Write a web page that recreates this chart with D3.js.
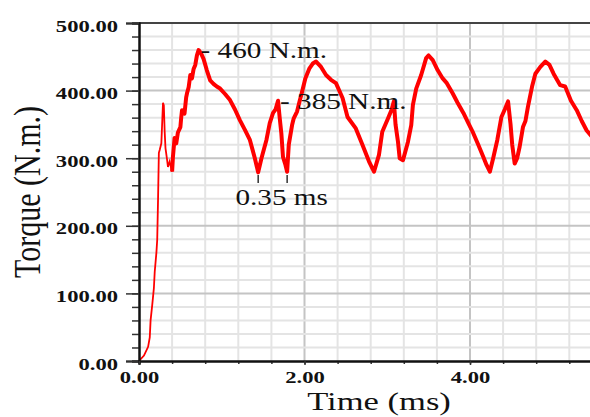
<!DOCTYPE html>
<html>
<head>
<meta charset="utf-8">
<script src="https://cdn.jsdelivr.net/npm/d3@7"></script>
<style>
  html, body { margin: 0; padding: 0; background: #fff; }
  svg { display: block; }
  text { font-family: "Liberation Serif", "Times New Roman", serif; }
</style>
</head>
<body>
<svg id="chart" width="590" height="417"></svg>
<script>
// Shaft torque over time (ms vs N.m.)
const timeMs = [
  0, 0.06, 0.11, 0.13, 0.14, 0.16, 0.18, 0.19, 0.21, 0.22, 0.23, 0.24, 0.25, 0.27, 0.29, 0.30,
  0.31, 0.32, 0.34, 0.35, 0.37, 0.38, 0.40,
  0.41, 0.43, 0.45, 0.47, 0.50, 0.51, 0.52, 0.55, 0.57, 0.58, 0.60, 0.62, 0.64, 0.66, 0.68, 0.70, 0.72,
  0.75, 0.78, 0.82, 0.86, 0.90, 0.94, 0.98, 1.04, 1.10, 1.16, 1.22, 1.28, 1.34, 1.40, 1.44,
  1.48, 1.54, 1.58, 1.62, 1.65, 1.68, 1.70, 1.72, 1.74, 1.77, 1.79,
  1.81, 1.85, 1.87, 1.91, 1.94, 1.97, 2.01, 2.06, 2.10, 2.14,
  2.20, 2.26, 2.32, 2.38, 2.46, 2.52, 2.62, 2.70, 2.78, 2.84,
  2.90, 2.94, 3.01, 3.05, 3.08, 3.10, 3.13, 3.15, 3.19,
  3.25, 3.29, 3.31, 3.35, 3.41, 3.47, 3.50,
  3.55, 3.61, 3.67, 3.72, 3.79, 3.85, 3.92, 3.98, 4.04, 4.10, 4.16, 4.20, 4.24,
  4.28, 4.33, 4.38, 4.42, 4.46, 4.49, 4.51, 4.54, 4.57,
  4.60, 4.64, 4.67, 4.70, 4.75, 4.79, 4.85, 4.91,
  4.96, 5.01, 5.09, 5.15, 5.22, 5.29, 5.35, 5.41, 5.50
];
const torqueNm = [
  0, 8, 21, 35, 60, 83, 108, 132, 160, 179, 238, 308, 312, 322, 382, 378,
  340, 315, 297, 287, 295, 290, 280,
  302, 330, 322, 338, 346, 360, 371, 366, 390, 396, 405, 423, 418, 432, 438, 452, 460,
  455, 447, 430, 415, 410, 406, 403, 395, 386, 372, 356, 342, 327, 300, 279,
  300, 327, 352, 367, 372, 385, 360, 337, 302, 290, 280,
  320, 349, 359, 369, 384, 398, 418, 433, 440, 443,
  435, 423, 416, 411, 389, 361, 344, 320, 295, 280,
  305, 339, 359, 371, 384, 350, 324, 300, 297,
  324, 349, 379, 403, 423, 448, 452,
  445, 430, 418, 411, 396, 382, 367, 352, 337, 320, 302, 290, 280,
  300, 327, 361, 372, 384, 350, 320, 292, 300,
  317, 346, 355, 376, 406, 425, 435, 443,
  438, 425, 408, 406, 385, 371, 355, 341, 328
];
// index where the start-up transient ends and the steady cycling begins
const transientEnd = 22;

const xTicksMajor = [0, 2, 4];
const yTicksMajor = [0, 100, 200, 300, 400, 500];
const xTitle = "Time (ms)";
const yTitle = "Torque (N.m.)";

// annotations: peak torque, second peak, and the gap between two minima
const peakLabel = { t: 0.72, v: 460, text: "- 460 N.m." };
const secondPeakLabel = { t: 1.68, v: 385, text: "- 385 N.m." };
const gapLabel = { t0: 1.44, t1: 1.79, text: "0.35 ms" };

const svg = d3.select("#chart");
const plotLeft = 139, plotTop = 23, plotBottom = 361;
const x = d3.scaleLinear().domain([0, 6]).range([plotLeft, plotLeft + 6 * 82.75]);
const y = d3.scaleLinear().domain([0, 500]).range([plotBottom, plotTop]);
const stretch = 1.33;

const xMinor = d3.range(0, 16).map(i => +(i * 0.4).toFixed(1));
const yMinor = d3.range(0, 26).map(i => i * 20);

// grid
const grid = svg.append("g");
grid.selectAll("line.vx").data(xMinor.filter(d => d > 0)).join("line")
  .attr("x1", d => x(d)).attr("x2", d => x(d)).attr("y1", plotTop).attr("y2", plotBottom)
  .attr("stroke", d => (Math.abs(d % 2) < 1e-6 ? "#c4c4c4" : "#e4e4e4")).attr("stroke-width", 2);
grid.selectAll("line.hy").data(yMinor.filter(d => d > 0 && d < 500)).join("line")
  .attr("x1", plotLeft).attr("x2", 590).attr("y1", d => y(d)).attr("y2", d => y(d))
  .attr("stroke", d => (d % 100 === 0 ? "#c4c4c4" : "#e4e4e4")).attr("stroke-width", 2);

// top frame line
svg.append("line").attr("x1", plotLeft).attr("x2", 590).attr("y1", plotTop).attr("y2", plotTop)
  .attr("stroke", "#444").attr("stroke-width", 2);

// data line: thin start-up transient, thicker noisy steady cycling
const line = d3.line().x(d => x(d[0])).y(d => y(d[1]));
const pts = timeMs.map((t, i) => [t, torqueNm[i]]);
svg.append("path").datum(pts.slice(0, transientEnd + 1))
  .attr("d", line).attr("fill", "none").attr("stroke", "#ff0000")
  .attr("stroke-width", 1.8).attr("stroke-linejoin", "miter");
svg.append("path").datum(pts.slice(transientEnd))
  .attr("d", line).attr("fill", "none").attr("stroke", "#ff0000")
  .attr("stroke-width", 4).attr("stroke-linejoin", "round");

// y axis
const yMinorAxis = svg.append("g").attr("transform", `translate(${plotLeft},0)`)
  .call(d3.axisLeft(y).tickValues(yMinor).tickSize(7).tickFormat(""));
const yMajorAxis = svg.append("g").attr("transform", `translate(${plotLeft},0)`)
  .call(d3.axisLeft(y).tickValues(yTicksMajor).tickSize(13).tickFormat(d3.format(".2f")));
[yMinorAxis, yMajorAxis].forEach(g => {
  g.select(".domain").attr("stroke", "#111").attr("stroke-width", 2);
  g.selectAll(".tick line").attr("stroke", "#333").attr("stroke-width", 1.5);
});
yMajorAxis.selectAll("text")
  .attr("x", 0).attr("dy", null)
  .attr("transform", `translate(-21,8) scale(${stretch},1)`)
  .attr("text-anchor", "end")
  .style("font-family", "'Liberation Serif', serif")
  .style("font-size", "17px").style("font-weight", "bold").attr("fill", "#111");

// x axis
const xMinorAxis = svg.append("g").attr("transform", `translate(0,${plotBottom})`)
  .call(d3.axisBottom(x).tickValues(xMinor).tickSize(3).tickFormat(""));
const xMajorAxis = svg.append("g").attr("transform", `translate(0,${plotBottom})`)
  .call(d3.axisBottom(x).tickValues(xTicksMajor).tickSize(4).tickFormat(d3.format(".2f")));
[xMinorAxis, xMajorAxis].forEach(g => {
  g.select(".domain").attr("stroke", "#111").attr("stroke-width", 2);
  g.selectAll(".tick line").attr("stroke", "#333").attr("stroke-width", 1.5);
});
xMajorAxis.selectAll("text")
  .attr("y", 0).attr("dy", null)
  .attr("transform", `translate(0,22) scale(${stretch},1)`)
  .attr("text-anchor", "middle")
  .style("font-family", "'Liberation Serif', serif")
  .style("font-size", "17px").style("font-weight", "bold").attr("fill", "#111");

// axis titles
svg.append("text")
  .attr("transform", `translate(379,410) scale(${stretch},1)`)
  .attr("text-anchor", "middle").style("font-size", "26px").attr("fill", "#111")
  .text(xTitle);
svg.append("text")
  .attr("transform", `translate(40,192) scale(1.25,1) rotate(-90)`)
  .attr("text-anchor", "middle").style("font-size", "30px").attr("fill", "#111")
  .text(yTitle);

// annotations
const annoSize = "23px";
svg.append("text")
  .attr("transform", `translate(${x(peakLabel.t) + 2},${y(peakLabel.v) + 8}) scale(1.27,1)`)
  .style("font-size", annoSize).attr("fill", "#111").text(peakLabel.text);
svg.append("text")
  .attr("transform", `translate(${x(secondPeakLabel.t) + 2},${y(secondPeakLabel.v) + 8}) scale(1.27,1)`)
  .style("font-size", annoSize).attr("fill", "#111").text(secondPeakLabel.text);
svg.selectAll("line.gap").data([gapLabel.t0, gapLabel.t1]).join("line")
  .attr("x1", d => x(d)).attr("x2", d => x(d)).attr("y1", 175).attr("y2", 183)
  .attr("stroke", "#111").attr("stroke-width", 1.3);
svg.append("text")
  .attr("transform", `translate(${(x(gapLabel.t0) + x(gapLabel.t1)) / 2 + 9},205) scale(1.27,1)`)
  .attr("text-anchor", "middle")
  .style("font-size", annoSize).attr("fill", "#111").text(gapLabel.text);
</script>
</body>
</html>
